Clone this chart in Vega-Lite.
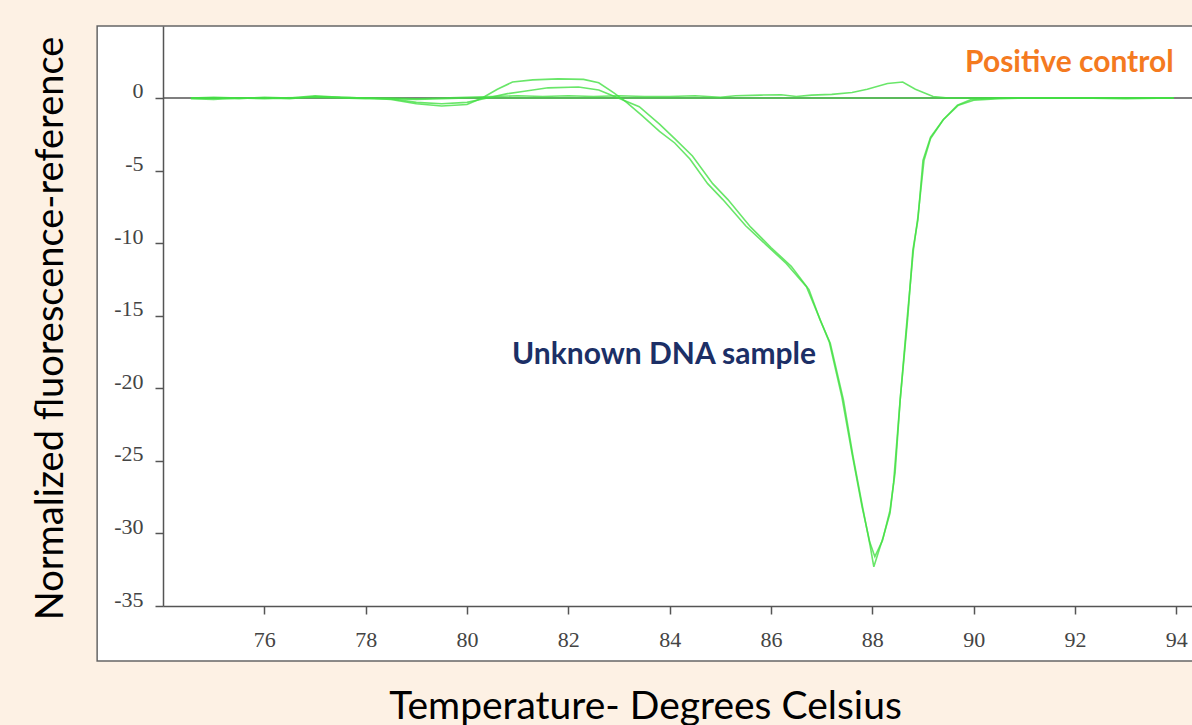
{
  "$schema": "https://vega.github.io/schema/vega-lite/v6.json",
  "width": 1029,
  "height": 580,
  "autosize": {"type": "none"},
  "padding": {"left": 163, "top": 26, "right": 0, "bottom": 119},
  "background": "#FDF1E4",
  "config": {"view": {"stroke": null}},
  "data": {"values": [
    {"curve": "Unknown 1", "t": 74.55, "v": -0.05}, {"curve": "Unknown 1", "t": 75.0, "v": -0.1}, {"curve": "Unknown 1", "t": 75.5, "v": 0.0}, {"curve": "Unknown 1", "t": 76.0, "v": 0.0}, {"curve": "Unknown 1", "t": 76.5, "v": -0.05}, {"curve": "Unknown 1", "t": 77.0, "v": 0.1}, {"curve": "Unknown 1", "t": 77.5, "v": 0.05}, {"curve": "Unknown 1", "t": 78.0, "v": 0.0}, {"curve": "Unknown 1", "t": 78.5, "v": -0.1}, {"curve": "Unknown 1", "t": 79.0, "v": -0.4}, {"curve": "Unknown 1", "t": 79.5, "v": -0.55}, {"curve": "Unknown 1", "t": 80.0, "v": -0.45}, {"curve": "Unknown 1", "t": 80.3, "v": 0.0}, {"curve": "Unknown 1", "t": 80.6, "v": 0.6}, {"curve": "Unknown 1", "t": 80.9, "v": 1.1}, {"curve": "Unknown 1", "t": 81.3, "v": 1.25}, {"curve": "Unknown 1", "t": 81.8, "v": 1.32}, {"curve": "Unknown 1", "t": 82.3, "v": 1.28}, {"curve": "Unknown 1", "t": 82.6, "v": 1.05}, {"curve": "Unknown 1", "t": 82.9, "v": 0.35}, {"curve": "Unknown 1", "t": 83.15, "v": -0.3}, {"curve": "Unknown 1", "t": 83.45, "v": -1.2}, {"curve": "Unknown 1", "t": 83.8, "v": -2.3}, {"curve": "Unknown 1", "t": 84.1, "v": -3.1}, {"curve": "Unknown 1", "t": 84.4, "v": -4.2}, {"curve": "Unknown 1", "t": 84.75, "v": -5.9}, {"curve": "Unknown 1", "t": 85.05, "v": -7.0}, {"curve": "Unknown 1", "t": 85.5, "v": -8.8}, {"curve": "Unknown 1", "t": 85.9, "v": -10.1}, {"curve": "Unknown 1", "t": 86.3, "v": -11.4}, {"curve": "Unknown 1", "t": 86.7, "v": -13.0}, {"curve": "Unknown 1", "t": 86.95, "v": -15.1}, {"curve": "Unknown 1", "t": 87.15, "v": -16.8}, {"curve": "Unknown 1", "t": 87.4, "v": -20.6}, {"curve": "Unknown 1", "t": 87.6, "v": -24.5}, {"curve": "Unknown 1", "t": 87.8, "v": -28.2}, {"curve": "Unknown 1", "t": 87.95, "v": -30.6}, {"curve": "Unknown 1", "t": 88.05, "v": -31.6}, {"curve": "Unknown 1", "t": 88.2, "v": -30.5}, {"curve": "Unknown 1", "t": 88.35, "v": -28.4}, {"curve": "Unknown 1", "t": 88.45, "v": -25.8}, {"curve": "Unknown 1", "t": 88.55, "v": -20.8}, {"curve": "Unknown 1", "t": 88.7, "v": -15.1}, {"curve": "Unknown 1", "t": 88.8, "v": -10.5}, {"curve": "Unknown 1", "t": 88.9, "v": -8.4}, {"curve": "Unknown 1", "t": 89.0, "v": -4.3}, {"curve": "Unknown 1", "t": 89.15, "v": -2.7}, {"curve": "Unknown 1", "t": 89.4, "v": -1.5}, {"curve": "Unknown 1", "t": 89.7, "v": -0.5}, {"curve": "Unknown 1", "t": 90.0, "v": -0.15}, {"curve": "Unknown 1", "t": 90.5, "v": -0.05}, {"curve": "Unknown 1", "t": 91.0, "v": 0.0}, {"curve": "Unknown 1", "t": 92.0, "v": 0.0}, {"curve": "Unknown 1", "t": 93.0, "v": 0.0}, {"curve": "Unknown 1", "t": 93.95, "v": 0.0},
    {"curve": "Unknown 2", "t": 74.55, "v": 0.0}, {"curve": "Unknown 2", "t": 75.0, "v": 0.0}, {"curve": "Unknown 2", "t": 75.5, "v": -0.05}, {"curve": "Unknown 2", "t": 76.0, "v": 0.05}, {"curve": "Unknown 2", "t": 76.5, "v": 0.0}, {"curve": "Unknown 2", "t": 77.0, "v": 0.05}, {"curve": "Unknown 2", "t": 77.5, "v": 0.0}, {"curve": "Unknown 2", "t": 78.0, "v": -0.05}, {"curve": "Unknown 2", "t": 78.5, "v": -0.05}, {"curve": "Unknown 2", "t": 79.0, "v": -0.3}, {"curve": "Unknown 2", "t": 79.5, "v": -0.4}, {"curve": "Unknown 2", "t": 80.0, "v": -0.3}, {"curve": "Unknown 2", "t": 80.4, "v": 0.0}, {"curve": "Unknown 2", "t": 80.8, "v": 0.3}, {"curve": "Unknown 2", "t": 81.1, "v": 0.45}, {"curve": "Unknown 2", "t": 81.6, "v": 0.7}, {"curve": "Unknown 2", "t": 82.2, "v": 0.76}, {"curve": "Unknown 2", "t": 82.6, "v": 0.55}, {"curve": "Unknown 2", "t": 82.95, "v": 0.05}, {"curve": "Unknown 2", "t": 83.4, "v": -0.6}, {"curve": "Unknown 2", "t": 83.8, "v": -1.8}, {"curve": "Unknown 2", "t": 84.1, "v": -2.8}, {"curve": "Unknown 2", "t": 84.45, "v": -4.0}, {"curve": "Unknown 2", "t": 84.85, "v": -5.9}, {"curve": "Unknown 2", "t": 85.15, "v": -7.0}, {"curve": "Unknown 2", "t": 85.6, "v": -8.9}, {"curve": "Unknown 2", "t": 86.0, "v": -10.3}, {"curve": "Unknown 2", "t": 86.4, "v": -11.6}, {"curve": "Unknown 2", "t": 86.75, "v": -13.2}, {"curve": "Unknown 2", "t": 86.97, "v": -15.3}, {"curve": "Unknown 2", "t": 87.17, "v": -16.9}, {"curve": "Unknown 2", "t": 87.43, "v": -20.8}, {"curve": "Unknown 2", "t": 87.62, "v": -24.7}, {"curve": "Unknown 2", "t": 87.82, "v": -28.4}, {"curve": "Unknown 2", "t": 87.96, "v": -30.9}, {"curve": "Unknown 2", "t": 88.03, "v": -32.3}, {"curve": "Unknown 2", "t": 88.22, "v": -30.2}, {"curve": "Unknown 2", "t": 88.35, "v": -28.6}, {"curve": "Unknown 2", "t": 88.42, "v": -26.5}, {"curve": "Unknown 2", "t": 88.55, "v": -20.8}, {"curve": "Unknown 2", "t": 88.69, "v": -15.1}, {"curve": "Unknown 2", "t": 88.81, "v": -10.5}, {"curve": "Unknown 2", "t": 88.9, "v": -8.2}, {"curve": "Unknown 2", "t": 89.02, "v": -4.3}, {"curve": "Unknown 2", "t": 89.15, "v": -2.8}, {"curve": "Unknown 2", "t": 89.4, "v": -1.5}, {"curve": "Unknown 2", "t": 89.68, "v": -0.5}, {"curve": "Unknown 2", "t": 89.95, "v": -0.1}, {"curve": "Unknown 2", "t": 90.5, "v": 0.0}, {"curve": "Unknown 2", "t": 91.0, "v": 0.0}, {"curve": "Unknown 2", "t": 92.0, "v": 0.0}, {"curve": "Unknown 2", "t": 93.0, "v": -0.05}, {"curve": "Unknown 2", "t": 93.95, "v": 0.0},
    {"curve": "Control 1", "t": 74.55, "v": 0.0}, {"curve": "Control 1", "t": 75.0, "v": 0.05}, {"curve": "Control 1", "t": 75.5, "v": 0.0}, {"curve": "Control 1", "t": 76.0, "v": -0.05}, {"curve": "Control 1", "t": 76.5, "v": 0.0}, {"curve": "Control 1", "t": 77.0, "v": 0.15}, {"curve": "Control 1", "t": 77.5, "v": 0.05}, {"curve": "Control 1", "t": 78.0, "v": 0.0}, {"curve": "Control 1", "t": 78.5, "v": 0.0}, {"curve": "Control 1", "t": 79.0, "v": -0.05}, {"curve": "Control 1", "t": 79.5, "v": 0.0}, {"curve": "Control 1", "t": 80.0, "v": 0.05}, {"curve": "Control 1", "t": 80.5, "v": 0.1}, {"curve": "Control 1", "t": 81.0, "v": 0.15}, {"curve": "Control 1", "t": 81.5, "v": 0.1}, {"curve": "Control 1", "t": 82.0, "v": 0.15}, {"curve": "Control 1", "t": 82.5, "v": 0.1}, {"curve": "Control 1", "t": 83.0, "v": 0.15}, {"curve": "Control 1", "t": 83.5, "v": 0.1}, {"curve": "Control 1", "t": 84.0, "v": 0.1}, {"curve": "Control 1", "t": 84.5, "v": 0.15}, {"curve": "Control 1", "t": 85.0, "v": 0.05}, {"curve": "Control 1", "t": 85.3, "v": 0.15}, {"curve": "Control 1", "t": 85.8, "v": 0.2}, {"curve": "Control 1", "t": 86.2, "v": 0.22}, {"curve": "Control 1", "t": 86.5, "v": 0.1}, {"curve": "Control 1", "t": 86.8, "v": 0.2}, {"curve": "Control 1", "t": 87.2, "v": 0.25}, {"curve": "Control 1", "t": 87.6, "v": 0.38}, {"curve": "Control 1", "t": 87.9, "v": 0.6}, {"curve": "Control 1", "t": 88.3, "v": 1.0}, {"curve": "Control 1", "t": 88.6, "v": 1.1}, {"curve": "Control 1", "t": 88.85, "v": 0.6}, {"curve": "Control 1", "t": 89.2, "v": 0.1}, {"curve": "Control 1", "t": 89.5, "v": 0.0}, {"curve": "Control 1", "t": 90.0, "v": 0.0}, {"curve": "Control 1", "t": 91.0, "v": 0.0}, {"curve": "Control 1", "t": 92.0, "v": 0.0}, {"curve": "Control 1", "t": 93.0, "v": 0.0}, {"curve": "Control 1", "t": 93.95, "v": 0.0},
    {"curve": "Control 2", "t": 74.55, "v": 0.0}, {"curve": "Control 2", "t": 76.0, "v": 0.0}, {"curve": "Control 2", "t": 77.2, "v": 0.05}, {"curve": "Control 2", "t": 78.0, "v": 0.0}, {"curve": "Control 2", "t": 79.0, "v": -0.1}, {"curve": "Control 2", "t": 80.0, "v": 0.0}, {"curve": "Control 2", "t": 82.0, "v": 0.0}, {"curve": "Control 2", "t": 84.0, "v": 0.0}, {"curve": "Control 2", "t": 86.0, "v": 0.0}, {"curve": "Control 2", "t": 88.0, "v": 0.0}, {"curve": "Control 2", "t": 90.0, "v": 0.0}, {"curve": "Control 2", "t": 92.0, "v": 0.0}, {"curve": "Control 2", "t": 93.95, "v": 0.0}
  ]},
  "layer": [
    {
      "data": {"values": [{}]},
      "mark": {"type": "rect", "fill": "white", "stroke": "#666666", "strokeWidth": 1.5},
      "encoding": {
        "x": {"datum": 72.7, "type": "quantitative", "scale": {"domain": [74, 94.31], "nice": false, "zero": false}},
        "x2": {"datum": 96},
        "y": {"datum": 4.96, "type": "quantitative", "scale": {"domain": [-35, 4.96], "nice": false, "zero": false}},
        "y2": {"datum": -38.79}
      }
    },
    {
      "data": {"values": [{}]},
      "mark": {"type": "rule", "color": "#555555", "strokeWidth": 1.5},
      "encoding": {
        "x": {"datum": 74, "type": "quantitative"},
        "x2": {"datum": 94.31},
        "y": {"datum": 0, "type": "quantitative"}
      }
    },
    {
      "mark": {"type": "line", "strokeWidth": 1.6, "color": "#44E044", "opacity": 0.8, "interpolate": "linear"},
      "encoding": {
        "x": {"field": "t", "type": "quantitative",
          "axis": {"title": "Temperature- Degrees Celsius", "values": [76, 78, 80, 82, 84, 86, 88, 90, 92, 94], "zindex": 1, "grid": false,
            "domainColor": "#555555", "domainWidth": 1.5, "tickColor": "#555555", "tickWidth": 1.5, "tickSize": 8,
            "labelFont": "Liberation Serif", "labelFontSize": 22, "labelColor": "#444444", "labelPadding": 15, "labelFlush": false,
            "titleFont": "Lato", "titleFontSize": 39, "titleFontWeight": "normal", "titleColor": "#000000",
            "titleX": 482, "titleY": 112, "titleAlign": "center", "titleBaseline": "alphabetic"}},
        "y": {"field": "v", "type": "quantitative",
          "axis": {"title": "Normalized fluorescence-reference", "values": [-35, -30, -25, -20, -15, -10, -5, 0], "zindex": 1, "grid": false,
            "labelExpr": "toString(datum.value)",
            "domainColor": "#555555", "domainWidth": 1.5, "tickColor": "#555555", "tickWidth": 1.5, "tickSize": 8,
            "labelFont": "Liberation Serif", "labelFontSize": 22, "labelColor": "#444444", "labelPadding": 12, "labelBaseline": "alphabetic", "labelFlush": false,
            "titleFont": "Lato", "titleFontSize": 38, "titleFontWeight": "normal", "titleColor": "#000000",
            "titleX": -101, "titleY": 302, "titleAngle": -90, "titleAlign": "center", "titleBaseline": "alphabetic"}},
        "detail": {"field": "curve"}
      }
    },
    {
      "data": {"values": [
        {"label": "Positive control", "t": 91.89, "v": 1.79, "kind": "control"},
        {"label": "Unknown DNA sample", "t": 83.89, "v": -18.33, "kind": "unknown"}
      ]},
      "mark": {"type": "text", "font": "Lato", "fontWeight": "bold", "fontSize": 30, "align": "center", "baseline": "alphabetic"},
      "encoding": {
        "x": {"field": "t", "type": "quantitative"},
        "y": {"field": "v", "type": "quantitative"},
        "text": {"field": "label"},
        "color": {"field": "kind", "type": "nominal", "scale": {"domain": ["control", "unknown"], "range": ["#F47A1F", "#1C2F66"]}, "legend": null}
      }
    }
  ]
}
